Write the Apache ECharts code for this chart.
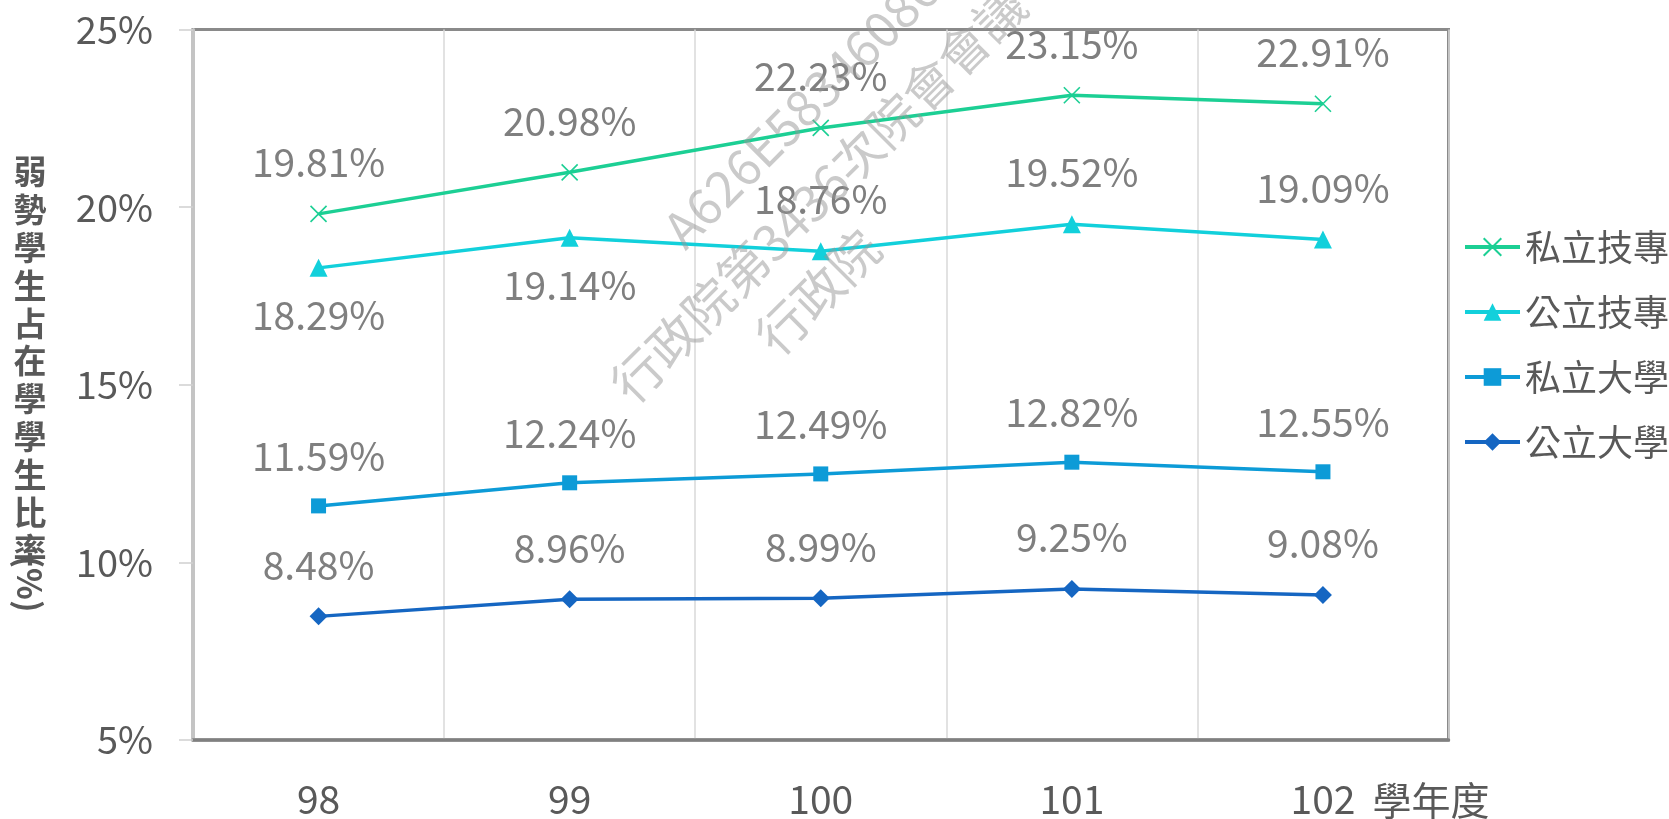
<!DOCTYPE html>
<html>
<head>
<meta charset="utf-8">
<script src="https://cdn.jsdelivr.net/npm/echarts@6/dist/echarts.min.js"></script>
<style>
html,body{margin:0;padding:0;background:#fff;}
#chart{width:1669px;height:819px;}
</style>
</head>
<body>
<div id="chart"></div>
<script>
// ---- data ----
const categories = ['98', '99', '100', '101', '102'];
const seriesNames = ['私立技專', '公立技專', '私立大學', '公立大學'];
const privateTech = [19.81, 20.98, 22.23, 23.15, 22.91];
const publicTech = [18.29, 19.14, 18.76, 19.52, 19.09];
const privateUniv = [11.59, 12.24, 12.49, 12.82, 12.55];
const publicUniv = [8.48, 8.96, 8.99, 9.25, 9.08];
const publicTechLabelPos = ['bottom', 'bottom', 'top', 'top', 'top'];
const yMin = 5, yMax = 25, yStep = 5;
const yAxisTitle = '弱勢學生占在學學生比率';
const yAxisUnit = '(%)';
const xAxisUnit = '學年度';

const FONT = '"Noto Sans CJK TC", "Noto Sans", sans-serif';
const colors = ['#1ccf94', '#12d0db', '#0d9bd7', '#1566c2'];

const labelStyle = {
  show: true, position: 'top', distance: 23,
  formatter: p => p.value.toFixed(2) + '%',
  fontSize: 39, color: '#7f7f7f', fontFamily: FONT
};

function mkSeries(name, values, color, symbol, size, posArr) {
  return {
    name: name, type: 'line',
    data: values.map((v, i) => posArr ? { value: v, label: { position: posArr[i], distance: posArr[i] === 'bottom' ? 19 : 23 } } : v),
    symbol: symbol, symbolSize: size,
    lineStyle: { color: color, width: 3.5 },
    itemStyle: { color: color, borderColor: color, borderWidth: symbol.startsWith('path') ? 1.6 : 0 },
    label: labelStyle,
    emphasis: { disabled: true },
    z: 3
  };
}

const chart = echarts.init(document.getElementById('chart'), null, { renderer: 'canvas' });
const wmStyle = { fill: 'rgba(150,150,150,0.5)', font: '50px ' + FONT };
chart.setOption({
  backgroundColor: '#ffffff',
  animation: false,
  textStyle: { fontFamily: FONT },
  grid: { left: 193, top: 29.5, right: 220.5, bottom: 79, show: true, borderColor: '#8a8a8a', borderWidth: 3, containLabel: false },
  legend: {
    orient: 'vertical', left: 1458, top: 224,
    itemWidth: 55, itemHeight: 22, itemGap: 29,
    lineStyle: { width: 4 },
    textStyle: { fontSize: 36, color: '#595959', fontFamily: FONT },
    data: seriesNames
  },
  xAxis: {
    type: 'category', data: categories, boundaryGap: true,
    axisLine: { lineStyle: { color: '#808080', width: 3.5 } },
    axisTick: { show: false },
    splitLine: { show: true, lineStyle: { color: '#d9d9d9', width: 1.5 } },
    axisLabel: { margin: 40, fontSize: 39, color: '#595959', fontFamily: FONT }
  },
  yAxis: {
    type: 'value', min: yMin, max: yMax, interval: yStep,
    axisLine: { show: true, lineStyle: { color: '#c4c4c4', width: 3 } },
    axisTick: { show: true, length: 14, lineStyle: { color: '#d0d0d0', width: 1.5 } },
    splitLine: { show: false },
    axisLabel: { margin: 40, fontSize: 38, color: '#595959', fontFamily: FONT, formatter: '{value}%' }
  },
  series: [
    mkSeries(seriesNames[0], privateTech, colors[0], 'path://M0,0L10,10M10,0L0,10', 16, null),
    mkSeries(seriesNames[1], publicTech, colors[1], 'triangle', 18, publicTechLabelPos),
    mkSeries(seriesNames[2], privateUniv, colors[2], 'rect', 15, null),
    mkSeries(seriesNames[3], publicUniv, colors[3], 'diamond', 18, null)
  ],
  graphic: [
    { type: 'text', x: 30, y: 153, silent: true,
      style: { text: yAxisTitle.split('').join('\n'), font: 'bold 33px ' + FONT, fill: '#595959', lineHeight: 37.8, align: 'center', verticalAlign: 'top' } },
    { type: 'text', x: 30, y: 584, rotation: -Math.PI / 2, silent: true,
      style: { text: yAxisUnit, font: 'bold 33px ' + FONT, fill: '#595959', align: 'center', verticalAlign: 'middle' } },
    { type: 'text', x: 1431, y: 800, silent: true,
      style: { text: xAxisUnit, font: '39px ' + FONT, fill: '#595959', align: 'center', verticalAlign: 'middle' } },
    // watermark
    { type: 'text', x: 672, y: 238, rotation: Math.PI / 4, silent: true, z: 10,
      style: Object.assign({ text: 'A626E58346086', align: 'left', verticalAlign: 'middle' }, wmStyle) },
    { type: 'text', x: 620, y: 393, rotation: Math.PI / 4, silent: true, z: 10,
      style: Object.assign({ text: '行政院第3436次院會會議', align: 'left', verticalAlign: 'middle' }, wmStyle) },
    { type: 'text', x: 765, y: 345, rotation: Math.PI / 4, silent: true, z: 10,
      style: Object.assign({ text: '行政院', align: 'left', verticalAlign: 'middle' }, wmStyle) }
  ]
});
</script>
</body>
</html>
